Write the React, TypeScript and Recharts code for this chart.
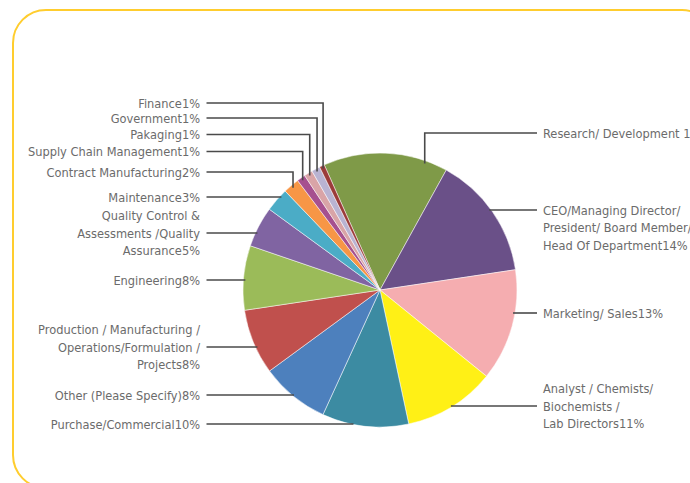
import { PieChart, Pie, Cell } from "recharts";

// job function split (clockwise from the green slice)
const categories = [
  "Research/ Development",
  "CEO/Managing Director/ President/ Board Member/ Head Of Department",
  "Marketing/ Sales",
  "Analyst / Chemists/ Biochemists / Lab Directors",
  "Purchase/Commercial",
  "Other (Please Specify)",
  "Production / Manufacturing / Operations/Formulation / Projects",
  "Engineering",
  "Quality Control & Assessments /Quality Assurance",
  "Maintenance",
  "Contract Manufacturing",
  "Supply Chain Management",
  "Pakaging",
  "Government",
  "Finance",
];

const shares = [14.7, 14.6, 13.2, 10.8, 10.2, 8.1, 7.7, 7.6, 4.8, 2.8, 1.9, 1.0, 1.0, 1.0, 0.6];

const labelText = [
  ["Research/ Development 15%"],
  ["CEO/Managing Director/", "President/ Board Member/", "Head Of Department14%"],
  ["Marketing/ Sales13%"],
  ["Analyst / Chemists/", "Biochemists /", "Lab Directors11%"],
  ["Purchase/Commercial10%"],
  ["Other (Please Specify)8%"],
  ["Production / Manufacturing /", "Operations/Formulation /", "Projects8%"],
  ["Engineering8%"],
  ["Quality Control &", "Assessments /Quality", "Assurance5%"],
  ["Maintenance3%"],
  ["Contract Manufacturing2%"],
  ["Supply Chain Management1%"],
  ["Pakaging1%"],
  ["Government1%"],
  ["Finance1%"],
];

const COLORS = [
  "#7f9a48",
  "#6a5088",
  "#f5adb0",
  "#fff016",
  "#3c8ba2",
  "#4d80bd",
  "#c0504d",
  "#9bbb59",
  "#8064a2",
  "#4bacc6",
  "#f79646",
  "#a6508f",
  "#d9a4a7",
  "#b9b3d2",
  "#9b3b3a",
];

// label placement: row of the leader line, which text line it hits, elbow or straight
const LAYOUT = [
  { side: "right", y: 133, line: 0, elbow: true, shift: 17 },
  { side: "right", y: 210, line: 0, elbow: false, shift: 0 },
  { side: "right", y: 313, line: 0, elbow: false, shift: 0 },
  { side: "right", y: 406, line: 1, elbow: false, shift: 0 },
  { side: "left", y: 424, line: 0, elbow: false, shift: 0 },
  { side: "left", y: 395, line: 0, elbow: false, shift: 0 },
  { side: "left", y: 347, line: 1, elbow: false, shift: 0 },
  { side: "left", y: 280, line: 0, elbow: false, shift: 0 },
  { side: "left", y: 233, line: 1, elbow: false, shift: 0 },
  { side: "left", y: 197, line: 0, elbow: false, shift: 0 },
  { side: "left", y: 172, line: 0, elbow: true, shift: 0 },
  { side: "left", y: 151.5, line: 0, elbow: true, shift: 0 },
  { side: "left", y: 134.5, line: 0, elbow: true, shift: 0 },
  { side: "left", y: 118, line: 0, elbow: true, shift: 0 },
  { side: "left", y: 103, line: 0, elbow: true, shift: 0 },
];

const data = categories.map((name, i) => ({ name, value: shares[i] }));

const RAD = Math.PI / 180;
const LINE_H = 17.5;

function renderLabel(props: any) {
  const { cx, cy, outerRadius, midAngle, index } = props;
  const lay = LAYOUT[index];
  const lines = labelText[index];
  const right = lay.side === "right";
  const textX = right ? 543 : 200;
  const lineStart = right ? 537 : 206.5;
  let d = "";
  if (lay.elbow) {
    const a = (midAngle - lay.shift) * RAD;
    const r = outerRadius * 0.98;
    const ax = cx + r * Math.cos(a);
    const ay = cy - r * Math.sin(a);
    d = `M${lineStart},${lay.y}H${ax}V${ay}`;
  } else {
    const r = outerRadius;
    const dy = lay.y - cy;
    const dx = Math.sqrt(Math.max(r * r - dy * dy, 0));
    d = `M${lineStart},${lay.y}H${right ? cx + dx - 2 : cx - dx + 2}`;
  }
  const top = lay.y - lay.line * LINE_H;
  return (
    <g key={`lbl-${index}`}>
      <path d={d} stroke="#4a4a4a" strokeWidth={1.6} fill="none" />
      <text
        x={textX}
        y={top}
        textAnchor={right ? "start" : "end"}
        fill="#6b6b6b"
        fontSize={12.7}
        fontFamily="'DejaVu Sans Condensed', 'DejaVu Sans', sans-serif"
      >
        {lines.map((t, k) => (
          <tspan key={k} x={textX} y={top + k * LINE_H} dy="0.36em">
            {t}
          </tspan>
        ))}
      </text>
    </g>
  );
}

export default function App() {
  return (
    <div
      style={{
        position: "absolute",
        left: 0,
        top: 0,
        width: 690,
        height: 483,
        overflow: "hidden",
        background: "#fff",
      }}
    >
      <div
        style={{
          position: "absolute",
          left: 12,
          top: 9,
          width: 700,
          height: 476,
          border: "2.5px solid #ffcd2e",
          borderRadius: 34,
        }}
      />
      <PieChart
        width={690}
        height={483}
        margin={{ top: 0, right: 0, bottom: 0, left: 0 }}
        style={{ position: "absolute", left: 0, top: 0 }}
      >
        <Pie
          data={data}
          dataKey="value"
          nameKey="name"
          cx={380}
          cy={290}
          outerRadius={137}
          startAngle={114}
          endAngle={-246}
          stroke="#ffffff"
          strokeWidth={0.5}
          label={renderLabel}
          labelLine={false}
          isAnimationActive={false}
        >
          {data.map((_, i) => (
            <Cell key={i} fill={COLORS[i]} />
          ))}
        </Pie>
      </PieChart>
    </div>
  );
}
